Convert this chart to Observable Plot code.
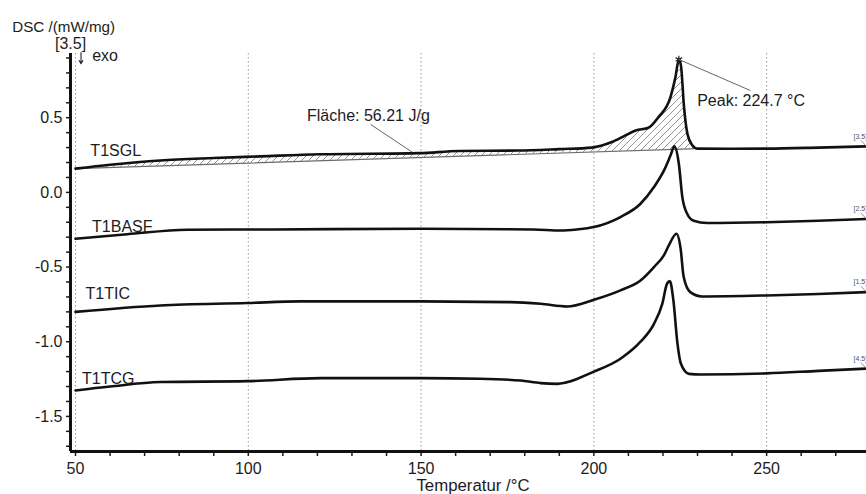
<!DOCTYPE html>
<html>
<head>
<meta charset="utf-8">
<script src="https://cdn.jsdelivr.net/npm/d3@7"></script>
<script src="https://cdn.jsdelivr.net/npm/@observablehq/plot@0.6"></script>
<style>
html, body { margin: 0; padding: 0; background: #fff; overflow: hidden; }
#chart svg { display: block; }
</style>
</head>
<body>
<div id="chart"></div>
<script>
// ---- data ----
const seriesNames = ["T1SGL", "T1BASF", "T1TIC", "T1TCG"];
const rangeTags = ["[3.5]", "[2.5]", "[1.5]", "[4.5]"];

const sglTemp = [50, 60, 74.5, 90, 103.4, 120.7, 149.5, 161, 178, 190, 199.4, 205.2, 209, 212.1, 215.8, 218.7, 222.2, 223.6, 224.6, 225.2, 226.1, 227.1, 228.5, 229.9, 240, 250, 265, 278.9];
const sglDsc  = [0.159, 0.185, 0.214, 0.23, 0.241, 0.255, 0.263, 0.277, 0.28, 0.29, 0.30, 0.337, 0.38, 0.415, 0.433, 0.504, 0.64, 0.77, 0.89, 0.85, 0.57, 0.39, 0.315, 0.293, 0.292, 0.293, 0.30, 0.308];

const basfTemp = [50, 65, 82.3, 107.3, 150, 182.6, 190.4, 195, 200, 207.7, 213.5, 217.4, 220.3, 222.2, 223.3, 224.6, 225.6, 227.0, 228.9, 232.8, 250, 265, 278.9];
const basfDsc  = [-0.31, -0.28, -0.25, -0.248, -0.243, -0.248, -0.255, -0.248, -0.232, -0.165, -0.076, 0.036, 0.147, 0.248, 0.308, 0.19, -0.03, -0.143, -0.19, -0.205, -0.20, -0.19, -0.178];

const ticTemp = [50, 74.6, 99.7, 115, 150, 176, 184.6, 192.3, 200, 207.7, 213.5, 217.4, 220.3, 221.7, 223.9, 225.1, 226.0, 227.9, 231.3, 250, 265, 278.9];
const ticDsc  = [-0.80, -0.757, -0.741, -0.73, -0.73, -0.735, -0.746, -0.764, -0.719, -0.656, -0.59, -0.50, -0.42, -0.355, -0.277, -0.375, -0.567, -0.668, -0.697, -0.69, -0.68, -0.668];

const tcgTemp = [50, 60, 74.6, 99.7, 120.9, 150, 167, 178.8, 184.6, 189.4, 200, 207.7, 213.5, 217.4, 219.8, 221.2, 222.0, 223.0, 224.2, 225.2, 227.5, 231, 250, 265, 278.9];
const tcgDsc  = [-1.326, -1.30, -1.27, -1.264, -1.244, -1.244, -1.248, -1.26, -1.277, -1.282, -1.20, -1.114, -1.0, -0.88, -0.746, -0.61, -0.594, -0.72, -1.013, -1.148, -1.215, -1.219, -1.212, -1.195, -1.18];

// integration baseline of the T1SGL peak (start and end)
const baselineTemp = [50, 229.9];
const baselineDsc = [0.159, 0.293];

const peakLabel = "Peak: 224.7 °C";
const areaLabel = "Fläche: 56.21 J/g";

const xMajor = [50, 100, 150, 200, 250];
const yMajor = [-1.5, -1.0, -0.5, 0.0, 0.5];

// ---- build tables ----
const temps = [sglTemp, basfTemp, ticTemp, tcgTemp];
const dscs = [sglDsc, basfDsc, ticDsc, tcgDsc];
const rows = seriesNames.flatMap((name, i) => temps[i].map((t, j) => ({series: name, t, v: dscs[i][j]})));
const ends = seriesNames.map((name, i) => ({series: name, tag: rangeTags[i], t: temps[i][temps[i].length - 1], v: dscs[i][dscs[i].length - 1]}));

const baseAt = t => baselineDsc[0] + (baselineDsc[1] - baselineDsc[0]) * (t - baselineTemp[0]) / (baselineTemp[1] - baselineTemp[0]);
const areaRows = sglTemp.map((t, j) => ({t, v: sglDsc[j], b: baseAt(t)})).filter(d => d.t >= baselineTemp[0] && d.t <= baselineTemp[1]);
const baselineRows = baselineTemp.map((t, j) => ({t, v: baselineDsc[j]}));
const peakIdx = sglDsc.indexOf(d3.max(sglDsc));
const peak = {t: sglTemp[peakIdx], v: sglDsc[peakIdx]};

const xMinor = d3.range(50, 280, 10);
const yMinor = d3.range(-17, 10).map(d => d / 10);
const xDomain = [48.55, 278.9];
const yDomain = [-1.735, 0.93];

const seriesLabels = [
  {text: "T1SGL", t: 54.3, v: 0.275},
  {text: "T1BASF", t: 54.8, v: -0.233},
  {text: "T1TIC", t: 52.9, v: -0.68},
  {text: "T1TCG", t: 51.9, v: -1.249}
];

const chart = Plot.plot({
  width: 866,
  height: 494,
  marginLeft: 70,
  marginRight: 0,
  marginTop: 53,
  marginBottom: 43,
  x: {domain: xDomain},
  y: {domain: yDomain},
  style: {fontFamily: "'Liberation Sans', Arial, sans-serif", fontSize: "16px", color: "#1c1c1c", background: "#fff"},
  marks: [
    Plot.gridX(xMajor, {stroke: "#9a9a9a", strokeOpacity: 1, strokeWidth: 1, strokeDasharray: "1.5,2.5"}),
    // hatched peak area
    Plot.areaY(areaRows, {x: "t", y1: "b", y2: "v", fill: "url(#hatch)", curve: "monotone-x"}),
    Plot.line(baselineRows, {x: "t", y: "v", stroke: "#6a6a6a", strokeWidth: 1.1}),
    // curves
    Plot.line(rows, {x: "t", y: "v", z: "series", stroke: "#111", strokeWidth: 2.6, curve: "monotone-x"}),
    Plot.dot([peak], {x: "t", y: "v", symbol: "asterisk", r: 3.5, stroke: "#222", strokeWidth: 1.2}),
    // annotations
    Plot.link([peak], {x1: "t", y1: "v", x2: () => 245.3, y2: () => 0.682, stroke: "#666", strokeWidth: 1}),
    Plot.text([peakLabel], {x: () => 229.9, y: () => 0.615, text: d => d, textAnchor: "start", lineAnchor: "middle", fontSize: 16}),
    Plot.link([areaLabel], {x1: () => 135.4, y1: () => 0.455, x2: () => 147.4, y2: () => 0.27, stroke: "#666", strokeWidth: 1}),
    Plot.text([areaLabel], {x: () => 117.0, y: () => 0.515, text: d => d, textAnchor: "start", lineAnchor: "middle", fontSize: 16}),
    Plot.text(seriesLabels, {x: "t", y: "v", text: "text", textAnchor: "start", lineAnchor: "middle", fontSize: 16}),
    // small range tags at right end
    Plot.link(ends, {x1: d => d.t - 1.6, y1: d => d.v + 0.04, x2: "t", y2: "v", stroke: "#777", strokeWidth: 0.8}),
    Plot.text(ends, {x: "t", y: "v", text: "tag", dx: -13, dy: -10, textAnchor: "start", lineAnchor: "middle", fontSize: 7, fill: "#555"}),
    // axes
    Plot.axisX(xMinor, {tickSize: 5, tickPadding: 6, strokeWidth: 1.5, fontSize: 16, label: null, tickFormat: d => xMajor.includes(d) ? String(d) : ""}),
    Plot.axisY(yMinor, {tickSize: 4, tickPadding: 4, strokeWidth: 1.5, fontSize: 16, label: null, tickFormat: d => yMajor.includes(d) ? d.toFixed(1) : ""}),
    Plot.ruleX(xDomain.slice(0, 1), {stroke: "#111", strokeWidth: 3}),
    Plot.ruleY(yDomain.slice(0, 1), {stroke: "#111", strokeWidth: 3}),
    // exo direction arrow
    Plot.arrow(["exo"], {x1: () => 51.6, y1: () => 0.937, x2: () => 51.6, y2: () => 0.862, stroke: "#222", strokeWidth: 1.1, headLength: 5}),
    // axis titles and header
    Plot.text(["DSC /(mW/mg)"], {frameAnchor: "top-left", text: d => d, textAnchor: "start", lineAnchor: "middle", dx: -58.3, dy: -26.3, fontSize: 15.2}),
    Plot.text(["[3.5]"], {frameAnchor: "top-left", text: d => d, textAnchor: "middle", lineAnchor: "middle", dx: 0, dy: -9.7, fontSize: 16}),
    Plot.text(["exo"], {frameAnchor: "top-left", text: d => d, textAnchor: "start", lineAnchor: "middle", dx: 21.7, dy: 2.5, fontSize: 16}),
    Plot.text(["Temperatur /°C"], {frameAnchor: "bottom", text: d => d, textAnchor: "middle", lineAnchor: "middle", dx: 4.5, dy: 34, fontSize: 16.8})
  ]
});

const ns = "http://www.w3.org/2000/svg";
const defs = document.createElementNS(ns, "defs");
defs.innerHTML = '<pattern id="hatch" patternUnits="userSpaceOnUse" width="7" height="7">' +
  '<path d="M-1,1 L1,-1 M0,7 L7,0 M6,8 L8,6" stroke="#777" stroke-width="0.8" fill="none"/></pattern>';
chart.insertBefore(defs, chart.firstChild);
document.getElementById("chart").appendChild(chart);
</script>
</body>
</html>
